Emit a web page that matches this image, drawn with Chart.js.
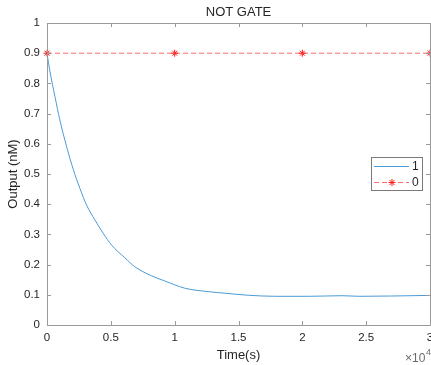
<!DOCTYPE html>
<html>
<head>
<meta charset="utf-8">
<script src="https://cdn.jsdelivr.net/npm/chart.js@4/dist/chart.umd.min.js"></script>
<style>
  html, body { margin: 0; padding: 0; background: #ffffff; }
  #notGateChart { display: block; }
</style>
</head>
<body>
<canvas id="notGateChart" width="431" height="365"></canvas>
<script>
// Time in seconds (axis shows x10^4).
const timeSeconds = [0, 230, 625, 1000, 1540, 2060, 2580, 3100, 3750, 4400, 5050, 6090, 6875, 8180, 9220, 10780, 12730, 14000, 15600, 17900, 20500, 23100, 24500, 27000, 30000];
const outputOne = [0.9, 0.84, 0.756, 0.68, 0.59, 0.515, 0.452, 0.397, 0.348, 0.304, 0.265, 0.223, 0.193, 0.163, 0.146, 0.122, 0.110, 0.105, 0.099, 0.095, 0.095, 0.097, 0.095, 0.096, 0.098];

const timeZero = [0, 10000, 20000, 30000];
const outputZero = [0.9, 0.9, 0.9, 0.9];

const seriesLabels = ['1', '0'];
const xTickLabels = ['0', '0.5', '1', '1.5', '2', '2.5', '3'];
const yTickLabels = ['0', '0.1', '0.2', '0.3', '0.4', '0.5', '0.6', '0.7', '0.8', '0.9', '1'];

const chartTitle = 'NOT GATE';
const xAxisTitle = 'Time(s)';
const yAxisTitle = 'Output (nM)';

const blueColor = '#4a9ad6';
const redLineColor = '#ff6a6a';
const redMarkerColor = '#ff1a1a';
const frameColor = '#9a9a9a';
const textColor = '#262626';
const fontFamily = '"Liberation Sans", Arial, Helvetica, sans-serif';

function buildPoints(xs, ys) {
    var points = [];
    for (let i = 0; i < xs.length; i++) {
        points.push({ x: xs[i], y: ys[i] });
    }
    return points;
}

//Draws the MATLAB style box, inward ticks, title, exponent label and legend.
const matlabFramePlugin = {
    id: 'matlabFrame',
    afterDraw: function (chart) {
        var ctx = chart.ctx;
        var area = chart.chartArea;
        var xScale = chart.scales.x;
        var yScale = chart.scales.y;
        var tickLen = 4;

        ctx.save();
        ctx.strokeStyle = frameColor;
        ctx.lineWidth = 1;
        ctx.beginPath();
        ctx.rect(area.left + 0.5, area.top + 0.5, area.right - area.left, area.bottom - area.top);
        ctx.stroke();

        ctx.beginPath();
        xScale.ticks.forEach(function (tick) {
            var px = Math.round(xScale.getPixelForValue(tick.value)) + 0.5;
            ctx.moveTo(px, area.bottom);
            ctx.lineTo(px, area.bottom - tickLen);
            ctx.moveTo(px, area.top);
            ctx.lineTo(px, area.top + tickLen);
        });
        yScale.ticks.forEach(function (tick) {
            var py = Math.round(yScale.getPixelForValue(tick.value)) + 0.5;
            ctx.moveTo(area.left, py);
            ctx.lineTo(area.left + tickLen, py);
            ctx.moveTo(area.right, py);
            ctx.lineTo(area.right - tickLen, py);
        });
        ctx.stroke();

        //Title above the plot.
        ctx.fillStyle = textColor;
        ctx.font = '13px ' + fontFamily;
        ctx.textAlign = 'center';
        ctx.textBaseline = 'middle';
        ctx.fillText(chartTitle, (area.left + area.right) / 2, 12);

        //Exponent label under the x axis.
        ctx.font = '12px ' + fontFamily;
        ctx.textAlign = 'left';
        ctx.fillStyle = '#6a6a6a';
        ctx.fillText('\u00d710', 405, 359);
        ctx.font = '9px ' + fontFamily;
        ctx.fillText('4', 426, 353);

        //Legend box.
        var lx = 371, ly = 157, lw = 51, lh = 33;
        ctx.fillStyle = '#ffffff';
        ctx.fillRect(lx, ly, lw, lh);
        ctx.strokeStyle = '#7a7a7a';
        ctx.strokeRect(lx + 0.5, ly + 0.5, lw, lh);

        var rowY = [166, 182];
        chart.data.datasets.forEach(function (dataSet, i) {
            ctx.save();
            ctx.strokeStyle = dataSet.borderColor;
            ctx.lineWidth = 1;
            ctx.setLineDash(dataSet.borderDash || []);
            ctx.beginPath();
            ctx.moveTo(lx + 3, rowY[i] + 0.5);
            ctx.lineTo(lx + 38, rowY[i] + 0.5);
            ctx.stroke();
            ctx.restore();
            if (dataSet.pointRadius > 0) {
                ctx.strokeStyle = dataSet.pointBorderColor;
                ctx.lineWidth = 1;
                Chart.helpers.drawPoint(ctx, { pointStyle: dataSet.pointStyle, radius: dataSet.pointRadius, rotation: 0, borderWidth: 1 }, lx + 21, rowY[i] + 0.5);
            }
            ctx.fillStyle = textColor;
            ctx.font = '12px ' + fontFamily;
            ctx.textAlign = 'left';
            ctx.textBaseline = 'middle';
            ctx.fillText(dataSet.label, lx + 41, rowY[i] + 1);
        });
        ctx.restore();
    }
};

var notGateChart = new Chart(document.getElementById('notGateChart'), {
    type: 'scatter',
    data: {
        datasets: [
            {
                label: seriesLabels[0],
                data: buildPoints(timeSeconds, outputOne),
                showLine: true,
                borderColor: blueColor,
                backgroundColor: blueColor,
                borderWidth: 1,
                pointRadius: 0,
                pointHoverRadius: 0,
                cubicInterpolationMode: 'monotone'
            },
            {
                label: seriesLabels[1],
                data: buildPoints(timeZero, outputZero),
                showLine: true,
                borderColor: redLineColor,
                backgroundColor: redMarkerColor,
                borderWidth: 1,
                borderDash: [5, 3],
                pointStyle: 'star',
                pointRadius: 3.5,
                pointHoverRadius: 3.5,
                pointBorderColor: redMarkerColor,
                pointBorderWidth: 1,
                clip: false
            }
        ]
    },
    plugins: [matlabFramePlugin],
    options: {
        responsive: false,
        animation: false,
        devicePixelRatio: 1,
        layout: {
            autoPadding: false,
            padding: { top: 23, right: 1, bottom: 0, left: 0 }
        },
        scales: {
            x: {
                type: 'linear',
                min: 0,
                max: 30000,
                afterFit: function (scale) {
                    scale.height = 40;
                    scale.paddingLeft = 0;
                    scale.paddingRight = 0;
                },
                border: { display: false },
                grid: { display: false, drawTicks: false },
                ticks: {
                    stepSize: 5000,
                    padding: 6,
                    maxRotation: 0,
                    color: textColor,
                    font: { family: fontFamily, size: 11.5 },
                    callback: function (value) { return xTickLabels[Math.round(value / 5000)]; }
                },
                title: {
                    display: true,
                    text: xAxisTitle,
                    color: textColor,
                    font: { family: fontFamily, size: 13 },
                    padding: { top: 0, bottom: 2 }
                }
            },
            y: {
                type: 'linear',
                min: 0,
                max: 1,
                afterFit: function (scale) {
                    scale.width = 47;
                    scale.paddingTop = 0;
                    scale.paddingBottom = 0;
                },
                border: { display: false },
                grid: { display: false, drawTicks: false },
                ticks: {
                    stepSize: 0.1,
                    padding: 7,
                    color: textColor,
                    font: { family: fontFamily, size: 11.5 },
                    callback: function (value) { return yTickLabels[Math.round(value * 10)]; }
                },
                title: {
                    display: true,
                    text: yAxisTitle,
                    color: textColor,
                    font: { family: fontFamily, size: 13 },
                    padding: { top: 6, bottom: 0 }
                }
            }
        },
        plugins: {
            legend: { display: false },
            title: { display: false },
            tooltip: { enabled: false }
        }
    }
});
</script>
</body>
</html>
